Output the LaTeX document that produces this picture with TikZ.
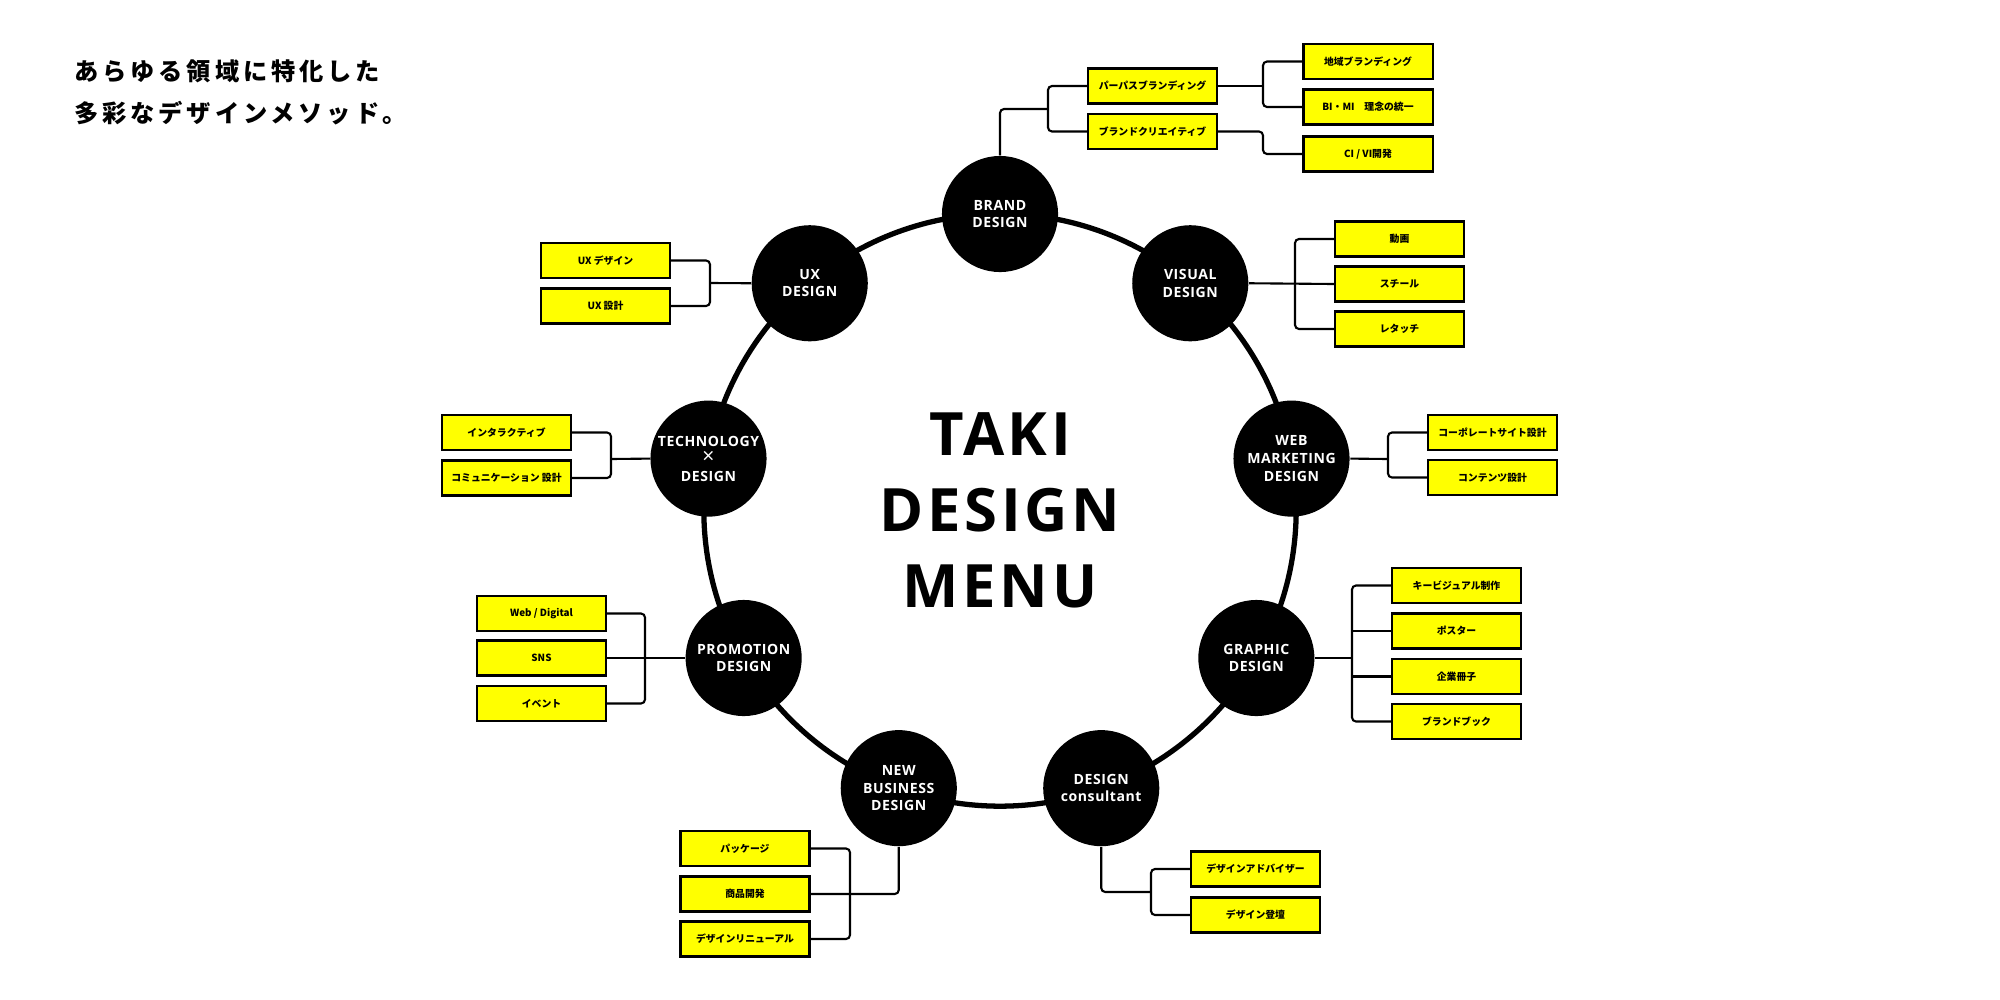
\documentclass[tikz,border=0pt]{standalone}
\usepackage{fontspec}
\setmainfont{Open Sans}
\newfontfamily\cjk{Noto Sans CJK JP}
\newfontfamily\cjkwide{Noto Sans CJK JP}[LetterSpace=16]
\definecolor{menuyellow}{HTML}{FFFF00}
\begin{document}
\begin{tikzpicture}[x=0.01cm, y=-0.01cm,
        hub/.style={circle, fill=black, minimum size=1.16cm, inner sep=0pt, text=white, align=center,
            font=\bfseries\fontsize{4}{5}\selectfont\addfontfeature{LetterSpace=4}},
        item/.style={draw=black, line width=0.6pt, fill=menuyellow, minimum width=1.29cm, minimum height=0.35cm,
            inner sep=0pt, font=\cjk\bfseries\fontsize{2.8}{3}\selectfont},
        link/.style={line width=0.6pt, rounded corners=0.04cm}]
        \useasboundingbox (0,0) rectangle (2000,1000);
        \node[anchor=west, align=left, font=\cjkwide\bfseries\fontsize{6.9}{12}\selectfont] (tagline) at (62,92)
            {あらゆる領域に特化した\\多彩なデザインメソッド。};
        \draw[line width=1.5pt] (1000,510) circle (2.96cm);
        \node[align=center, font=\bfseries\fontsize{17}{21.6}\selectfont\addfontfeature{LetterSpace=6}] (menu) at (1000,510)
            {TAKI\\DESIGN\\MENU};
        \foreach \n/\a/\t in {brand/90/{BRAND\\DESIGN}, visual/50/{VISUAL\\DESIGN}, web/10/{WEB\\MARKETING\\DESIGN},
                graphic/-30/{GRAPHIC\\DESIGN}, consult/-70/{DESIGN\\consultant}, newbiz/-110/{NEW\\BUSINESS\\DESIGN},
                promo/-150/{PROMOTION\\DESIGN}, tech/170/{TECHNOLOGY\\{\mdseries\fontsize{6}{5}\selectfont ×}\\DESIGN},
                ux/130/{UX\\DESIGN}} {
            \node[hub] (\n) at ({1000+296*cos(\a)},{510-296*sin(\a)}) {\t};
        }
        % brand
        \foreach \n/\y/\t in {b1/86/パーパスブランディング, b2/131.5/ブランドクリエイティブ} {
            \node[item] (\n) at (1152.5,\y) {\t};
        }
        \foreach \n/\y/\t in {b3/61.5/地域ブランディング, b4/107/{BI・MI　理念の統一}, b5/154/{CI / VI開発}} {
            \node[item] (\n) at (1368,\y) {\t};
        }
        \coordinate (jb) at (1048,109);
        \coordinate (jb2) at (1263,86);
        \draw[link] (brand.north) |- (jb);
        \draw[link] (b1.west) -| (jb) |- (b2.west);
        \draw[link] (b1.east) -- (jb2);
        \draw[link] (b3.west) -| (jb2) |- (b4.west);
        \draw[link] (b2.east) -| (jb2 |- b5.west) -- (b5.west);
        % visual
        \foreach \n/\y/\t in {v1/239/動画, v2/284/スチール, v3/329/レタッチ} {
            \node[item] (\n) at (1399.5,\y) {\t};
        }
        \coordinate (jv) at (1295,284);
        \draw[link] (visual.east) -- (v2.west);
        \draw[link] (v1.west) -| (jv) |- (v3.west);
        % web
        \foreach \n/\y/\t in {w1/432.5/コーポレートサイト設計, w2/477.5/コンテンツ設計} {
            \node[item] (\n) at (1492.5,\y) {\t};
        }
        \coordinate (jw) at (1388,459);
        \draw[link] (web.east) -- (jw);
        \draw[link] (w1.west) -| (jw) |- (w2.west);
        % graphic
        \foreach \n/\y/\t in {g1/585.5/キービジュアル制作, g2/631/ポスター, g3/676.5/企業冊子, g4/721.5/ブランドブック} {
            \node[item] (\n) at (1456.5,\y) {\t};
        }
        \coordinate (jg) at (1352,658);
        \draw[link] (graphic.east) -- (jg);
        \draw[link] (g1.west) -| (jg) |- (g4.west);
        \draw[link] (g2.west) -- (g2.west -| jg);
        \draw[link] (g3.west) -- (g3.west -| jg);
        % consultant
        \foreach \n/\y/\t in {c1/869/デザインアドバイザー, c2/915/デザイン登壇} {
            \node[item] (\n) at (1255.5,\y) {\t};
        }
        \coordinate (jc) at (1151,892);
        \draw[link] (consult.south) |- (jc);
        \draw[link] (c1.west) -| (jc) |- (c2.west);
        % new business
        \foreach \n/\y/\t in {n1/848.5/パッケージ, n2/894/商品開発, n3/939/デザインリニューアル} {
            \node[item] (\n) at (745,\y) {\t};
        }
        \coordinate (jn) at (850,894);
        \draw[link] (newbiz.south) |- (n2.east);
        \draw[link] (n1.east) -| (jn) |- (n3.east);
        % promotion
        \foreach \n/\y/\t in {p1/613.5/{Web / Digital}, p2/658/SNS, p3/703.5/イベント} {
            \node[item] (\n) at (541.5,\y) {\t};
        }
        \coordinate (jp) at (645,658);
        \draw[link] (promo.west) -- (p2.east);
        \draw[link] (p1.east) -| (jp) |- (p3.east);
        % technology
        \foreach \n/\y/\t in {t1/432.5/インタラクティブ, t2/478/{コミュニケーション 設計}} {
            \node[item] (\n) at (506.5,\y) {\t};
        }
        \coordinate (jt) at (611,459);
        \draw[link] (tech.west) -- (jt);
        \draw[link] (t1.east) -| (jt) |- (t2.east);
        % ux
        \foreach \n/\y/\t in {u1/260.5/{UX デザイン}, u2/306/{UX 設計}} {
            \node[item] (\n) at (605.5,\y) {\t};
        }
        \coordinate (ju) at (710,283);
        \draw[link] (ux.west) -- (ju);
        \draw[link] (u1.east) -| (ju) |- (u2.east);
    \end{tikzpicture}
\end{document}
